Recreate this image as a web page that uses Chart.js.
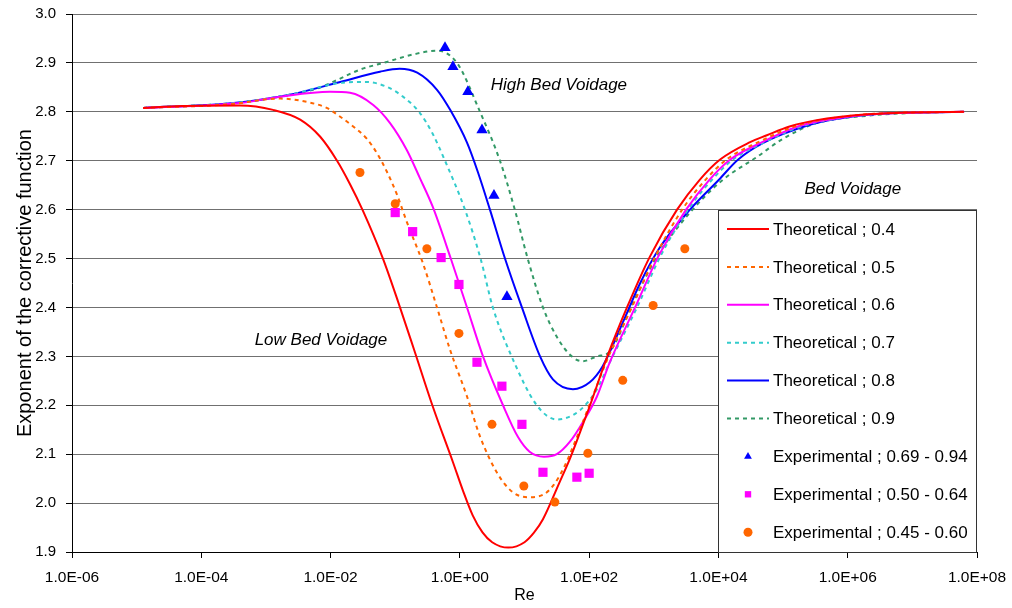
<!DOCTYPE html>
<html>
<head>
<meta charset="utf-8">
<script src="https://cdn.jsdelivr.net/npm/chart.js@4.4.1/dist/chart.umd.min.js"></script>
<style>
  html, body { margin: 0; padding: 0; background: #fff; }
</style>
</head>
<body>
<canvas id="chart" width="1012" height="608"></canvas>
<script>
// Theoretical curves: Re values and exponent values per bed voidage
const re04 = [1.26e-5, 5.01e-5, 3.98e-4, 1.29e-3, 3.39e-3, 6.92e-3, 1.26e-2, 2.0e-2, 3.16e-2, 6.46e-2, 0.112, 0.2, 0.38, 0.78, 1.12, 1.58, 2.24, 3.16, 5.62, 10, 14.1, 19.3, 35.5, 50.1, 72.4, 102, 191, 385, 871, 2290, 5130, 10500, 30900, 56200, 126000, 331000, 2.0e6, 6.31e6, 6.31e7];
const val04 = [2.808, 2.812, 2.813, 2.804, 2.784, 2.749, 2.700, 2.652, 2.598, 2.500, 2.41, 2.31, 2.198, 2.084, 2.025, 1.975, 1.94, 1.92, 1.909, 1.92, 1.94, 1.967, 2.045, 2.09, 2.145, 2.198, 2.300, 2.400, 2.504, 2.600, 2.661, 2.702, 2.738, 2.752, 2.770, 2.783, 2.795, 2.798, 2.800];

const re05 = [1.26e-5, 2.51e-4, 1.66e-3, 4.37e-3, 8.71e-3, 1.41e-2, 2.24e-2, 3.63e-2, 5.25e-2, 7.41e-2, 0.107, 0.151, 0.269, 0.443, 0.703, 1.29, 2.04, 3.72, 6.61, 12.0, 20.0, 27.5, 39.8, 56.2, 79.4, 115, 200, 457, 1050, 2750, 6310, 13200, 39800, 158000, 417000, 2.51e6, 6.31e7];
const val05 = [2.808, 2.815, 2.827, 2.82, 2.808, 2.79, 2.770, 2.745, 2.715, 2.678, 2.630, 2.575, 2.49, 2.40, 2.314, 2.218, 2.137, 2.063, 2.022, 2.012, 2.018, 2.035, 2.07, 2.115, 2.165, 2.22, 2.30, 2.40, 2.504, 2.600, 2.661, 2.702, 2.737, 2.771, 2.784, 2.796, 2.80];

const re06 = [1.26e-5, 3.98e-4, 1.66e-3, 9.77e-3, 2.0e-2, 4.57e-2, 8.32e-2, 0.151, 0.24, 0.38, 0.724, 1.29, 2.28, 4.65, 7.94, 12.0, 20.0, 31.6, 50.1, 79.4, 132, 209, 513, 1170, 3160, 7240, 15100, 45700, 178000, 501000, 3.16e6, 6.31e7];
const val06 = [2.808, 2.818, 2.831, 2.841, 2.839, 2.814, 2.777, 2.722, 2.665, 2.606, 2.50, 2.40, 2.30, 2.20, 2.135, 2.105, 2.095, 2.10, 2.125, 2.165, 2.218, 2.288, 2.40, 2.504, 2.600, 2.661, 2.702, 2.737, 2.771, 2.784, 2.796, 2.80];

const re07 = [1.26e-5, 3.16e-4, 2.34e-3, 1.41e-2, 3.63e-2, 7.41e-2, 0.132, 0.24, 0.38, 0.589, 1.20, 2.09, 3.24, 6.31, 15.5, 31.6, 72.4, 132, 209, 550, 1260, 3390, 7940, 16600, 50100, 200000, 562000, 3.16e6, 6.31e7];
const val07 = [2.808, 2.818, 2.835, 2.859, 2.861, 2.851, 2.831, 2.798, 2.755, 2.70, 2.60, 2.50, 2.40, 2.30, 2.20, 2.171, 2.19, 2.233, 2.288, 2.40, 2.504, 2.600, 2.661, 2.702, 2.737, 2.771, 2.784, 2.796, 2.80];

const re08 = [1.26e-5, 3.16e-4, 2.34e-3, 1.41e-2, 5.81e-2, 0.117, 0.219, 0.443, 0.708, 1.29, 1.91, 2.92, 4.99, 9.12, 17.4, 27.5, 56.2, 102, 162, 331, 617, 1260, 3630, 10000, 20000, 50100, 251000, 631000, 3.16e6, 6.31e7];
const val08 = [2.808, 2.818, 2.835, 2.861, 2.882, 2.888, 2.88, 2.845, 2.804, 2.737, 2.676, 2.60, 2.50, 2.40, 2.30, 2.253, 2.233, 2.247, 2.28, 2.369, 2.45, 2.524, 2.60, 2.66, 2.702, 2.737, 2.773, 2.785, 2.796, 2.80];

const re09 = [1.26e-5, 3.16e-4, 2.34e-3, 6.31e-3, 1.41e-2, 2.82e-2, 7.41e-2, 0.2, 0.443, 0.902, 2.05, 4.17, 7.08, 11.2, 19.3, 31.6, 53.7, 79.4, 132, 209, 479, 1120, 3630, 11700, 39800, 100000, 331000, 2.0e6, 1.17e7, 6.31e7];
const val09 = [2.808, 2.818, 2.835, 2.848, 2.868, 2.886, 2.902, 2.918, 2.925, 2.90, 2.80, 2.70, 2.60, 2.50, 2.40, 2.34, 2.30, 2.29, 2.30, 2.31, 2.41, 2.504, 2.594, 2.661, 2.708, 2.745, 2.777, 2.792, 2.798, 2.80];

// Experimental points
const triRe = [0.589, 0.782, 1.33, 2.20, 3.37, 5.35];
const triVal = [2.931, 2.892, 2.841, 2.763, 2.629, 2.422];
const sqRe = [0.1, 0.186, 0.513, 0.968, 1.84, 4.47, 9.12, 19.3, 64.6, 100];
const sqVal = [2.594, 2.555, 2.502, 2.447, 2.288, 2.239, 2.161, 2.063, 2.053, 2.061];
const cirRe = [0.0285, 0.1, 0.309, 0.968, 3.14, 9.77, 29.5, 95.5, 331, 977, 3020];
const cirVal = [2.676, 2.612, 2.52, 2.347, 2.161, 2.035, 2.002, 2.102, 2.251, 2.404, 2.52];

// Axis ticks
const reTicks = [1e-6, 1e-4, 1e-2, 1, 1e2, 1e4, 1e6, 1e8];
const yTicks = [1.9, 2.0, 2.1, 2.2, 2.3, 2.4, 2.5, 2.6, 2.7, 2.8, 2.9, 3.0];

const FONT = '"Liberation Sans", Arial, sans-serif';

const pts = (xs, ys) => xs.map((x, i) => ({ x: x, y: ys[i] }));

function curve(label, xs, ys, color, dashed) {
    return {
        label, data: pts(xs, ys), showLine: true, order: 1,
        borderColor: color, backgroundColor: color, borderWidth: 2,
        borderDash: dashed ? [4, 4] : [], pointRadius: 0, pointHoverRadius: 0,
        cubicInterpolationMode: 'monotone', fill: false
    };
}

function markers(label, xs, ys, color, style, r) {
    return {
        label, data: pts(xs, ys), showLine: false, order: 0,
        backgroundColor: color, borderColor: color, borderWidth: 0,
        pointStyle: style, pointRadius: r, pointHoverRadius: r
    };
}

function fmtExp(v) {
    const parts = Number(v).toExponential(1).split('e');
    const n = Math.abs(parseInt(parts[1], 10));
    return parts[0] + 'E' + (parts[1][0] === '-' ? '-' : '+') + String(n).padStart(2, '0');
}

// Text notes placed in data coordinates
const notes = [
    { text: 'High Bed Voidage', re: 34, y: 2.855 },
    { text: 'Bed Voidage', re: 1.2e6, y: 2.642 },
    { text: 'Low Bed Voidage', re: 7.1e-3, y: 2.332 }
];

const overlay = {
    id: 'overlay',
    afterDraw(chart) {
        const { ctx, chartArea, scales } = chart;
        ctx.save();
        ctx.font = 'italic 17px ' + FONT;
        ctx.fillStyle = '#000';
        ctx.textAlign = 'center';
        ctx.textBaseline = 'middle';
        notes.forEach(n => ctx.fillText(n.text, scales.x.getPixelForValue(n.re), scales.y.getPixelForValue(n.y)));

        // legend box inside the plot, bottom right
        const L = chartArea.right - 259, T = chartArea.top + 196;
        const R = chartArea.right, B = chartArea.bottom;
        ctx.fillStyle = '#fff';
        ctx.fillRect(L, T, R - L, B - T);
        ctx.strokeStyle = '#333';
        ctx.lineWidth = 1;
        ctx.strokeRect(L + 0.5, T + 0.5, R - L - 1, B - T);

        ctx.textAlign = 'left';
        ctx.font = '17px ' + FONT;
        chart.data.datasets.forEach((ds, i) => {
            const y = T + 19 + i * 37.9;
            if (ds.showLine) {
                ctx.strokeStyle = ds.borderColor;
                ctx.lineWidth = 2;
                ctx.setLineDash(ds.borderDash);
                ctx.beginPath();
                ctx.moveTo(L + 9, y);
                ctx.lineTo(L + 51, y);
                ctx.stroke();
                ctx.setLineDash([]);
            } else {
                ctx.fillStyle = ds.backgroundColor;
                Chart.helpers.drawPoint(ctx, { pointStyle: ds.pointStyle, radius: 4.5, borderWidth: 0 }, L + 30, y);
            }
            ctx.fillStyle = '#000';
            ctx.fillText(ds.label, L + 55, y + 1);
        });
        ctx.restore();
    }
};

new Chart(document.getElementById('chart'), {
    type: 'scatter',
    data: {
        datasets: [
            curve('Theoretical ; 0.4', re04, val04, '#FF0000', false),
            curve('Theoretical ; 0.5', re05, val05, '#FF6600', true),
            curve('Theoretical ; 0.6', re06, val06, '#FF00FF', false),
            curve('Theoretical ; 0.7', re07, val07, '#33CCCC', true),
            curve('Theoretical ; 0.8', re08, val08, '#0000FF', false),
            curve('Theoretical ; 0.9', re09, val09, '#339966', true),
            markers('Experimental ; 0.69 - 0.94', triRe, triVal, '#0000FF', 'triangle', 6.5),
            markers('Experimental ; 0.50 - 0.64', sqRe, sqVal, '#FF00FF', 'rect', 6.5),
            markers('Experimental ; 0.45 - 0.60', cirRe, cirVal, '#FF6600', 'circle', 4.5)
        ]
    },
    options: {
        responsive: false,
        animation: false,
        layout: { padding: { left: 0, top: 14, right: 35, bottom: 0 } },
        plugins: { legend: { display: false }, tooltip: { enabled: false } },
        scales: {
            x: {
                type: 'logarithmic', min: 1e-6, max: 1e8,
                afterBuildTicks: s => { s.ticks = reTicks.map(v => ({ value: v })); },
                afterFit: s => { s.height = 56; s.paddingLeft = 0; s.paddingRight = 0; },
                ticks: { callback: v => fmtExp(v), color: '#000', font: { family: FONT, size: 15.5 }, padding: 10, maxRotation: 0, autoSkip: false },
                grid: { drawOnChartArea: false, drawTicks: true, tickLength: 6, color: '#000' },
                border: { color: '#000', width: 1 },
                title: { display: true, text: 'Re', color: '#000', font: { family: FONT, size: 16 }, padding: { top: 0, bottom: 3 } }
            },
            y: {
                type: 'linear', min: 1.9, max: 3.0,
                afterBuildTicks: s => { s.ticks = yTicks.map(v => ({ value: v })); },
                afterFit: s => { s.width = 72; s.paddingTop = 0; s.paddingBottom = 0; },
                ticks: { callback: v => Number(v).toFixed(1), color: '#000', font: { family: FONT, size: 15 }, padding: 10 },
                grid: { color: '#707070', tickColor: '#000', tickLength: 6, lineWidth: 1 },
                border: { color: '#000', width: 1 },
                title: { display: true, text: 'Exponent of the corrective function', color: '#000', font: { family: FONT, size: 20 }, padding: { top: 13, bottom: 0 } }
            }
        }
    },
    plugins: [overlay]
});
</script>
</body>
</html>
